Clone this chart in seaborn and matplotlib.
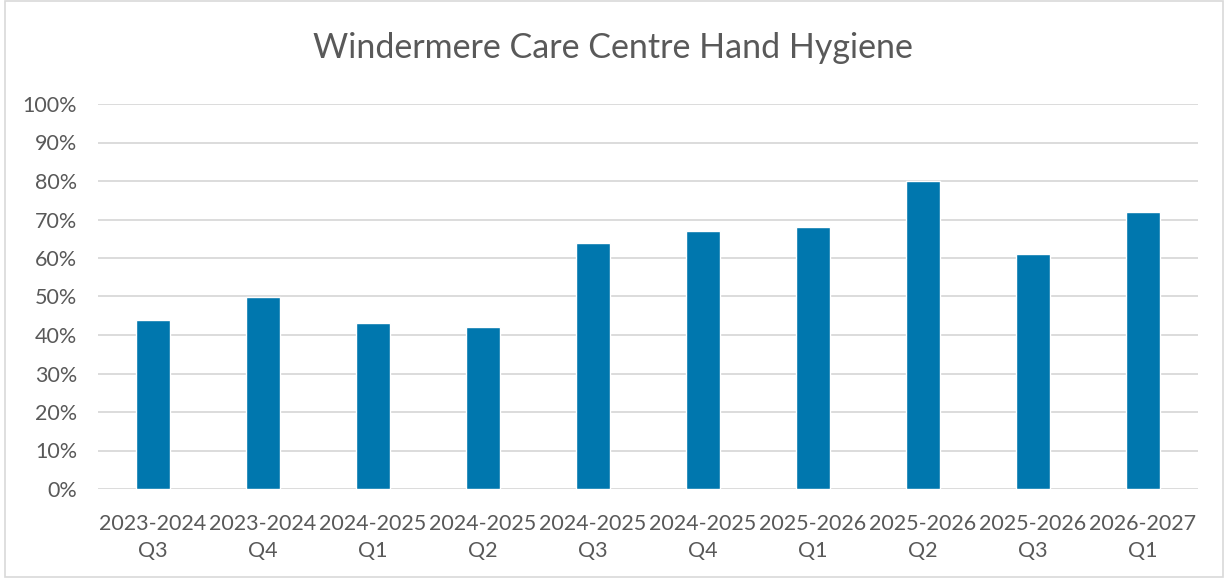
import matplotlib
matplotlib.use("Agg")
import matplotlib.pyplot as plt
import seaborn as sns
import pandas as pd
from matplotlib.ticker import PercentFormatter, MultipleLocator
from matplotlib.patches import Rectangle

categories = ["2023-2024\nQ3", "2023-2024\nQ4", "2024-2025\nQ1", "2024-2025\nQ2",
              "2024-2025\nQ3", "2024-2025\nQ4", "2025-2026\nQ1", "2025-2026\nQ2",
              "2025-2026\nQ3", "2026-2027\nQ1"]
values = [0.44, 0.50, 0.43, 0.42, 0.64, 0.67, 0.68, 0.80, 0.61, 0.72]
title = "Windermere Care Centre Hand Hygiene"

sns.set_theme(style="white")
plt.rcParams['font.family'] = ['Lato', 'DejaVu Sans']

df = pd.DataFrame({"cat": categories, "val": values})

fig = plt.figure(figsize=(12.25, 5.78), dpi=100)
ax = fig.add_axes([98/1225, 89/578, 1100/1225, 385/578])
sns.barplot(data=df, x="cat", y="val", color="#0077AE", width=0.31,
            saturation=1, ax=ax, zorder=3)

ax.set_ylim(0, 1)
ax.yaxis.set_major_locator(MultipleLocator(0.1))
ax.yaxis.set_major_formatter(PercentFormatter(1.0, decimals=0))
ax.grid(axis="y", color="#D9D9D9", linewidth=1.3, zorder=0)
ax.set_xlabel("")
ax.set_ylabel("")
for s in ax.spines.values():
    s.set_visible(False)
ax.tick_params(axis="y", length=0, labelsize=15.5, colors="#595959", pad=15)
ax.tick_params(axis="x", length=0, labelsize=15.5, colors="#595959", pad=18)
for lbl in ax.get_xticklabels():
    lbl.set_linespacing(1.45)

fig.text(0.5, 1 - 48/578, title, ha="center", va="center", fontsize=24.5, color="#595959")
fig.patches.append(Rectangle((5/1225, 1/578), 1218/1225, 576/578, transform=fig.transFigure,
                             fill=False, edgecolor="#D9D9D9", linewidth=1.2))

fig.savefig("out.png", dpi=100)
